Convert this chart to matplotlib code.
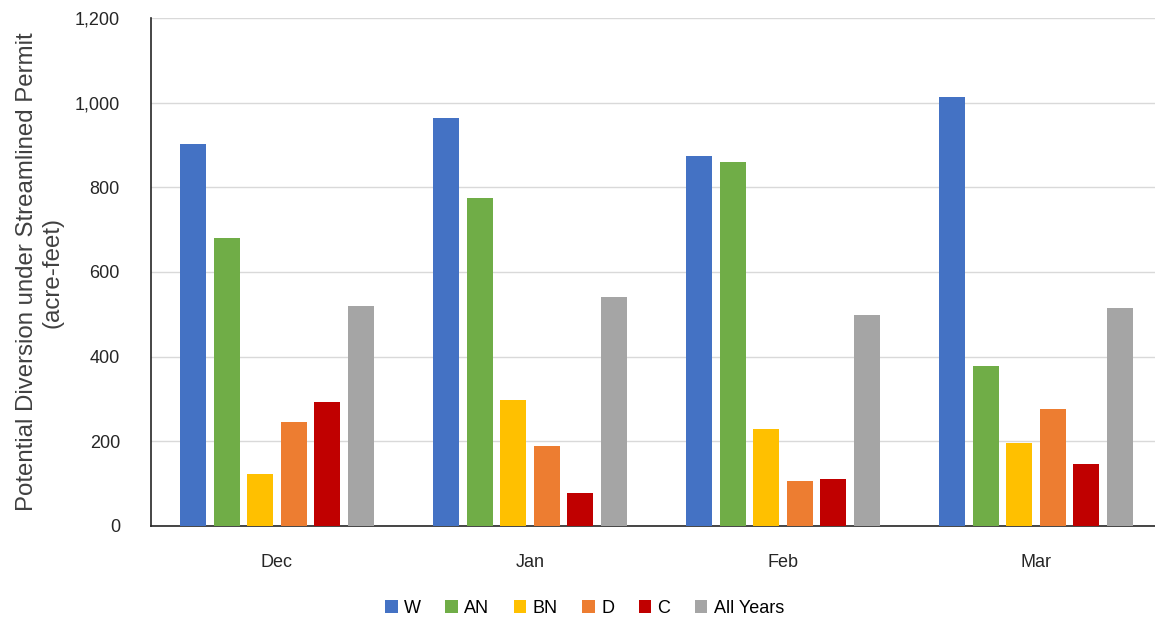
import matplotlib.pyplot as plt
import numpy as np

months = ["Dec", "Jan", "Feb", "Mar"]
series_names = ["W", "AN", "BN", "D", "C", "All Years"]
w_vals = [902, 963, 874, 1013]
an_vals = [680, 774, 860, 377]
bn_vals = [124, 297, 229, 196]
d_vals = [245, 189, 106, 276]
c_vals = [293, 77, 111, 147]
all_vals = [519, 540, 499, 514]
colors = ["#4472C4", "#70AD47", "#FFC000", "#ED7D31", "#C00000", "#A5A5A5"]

plt.rcParams["font.family"] = ["Liberation Sans", "DejaVu Sans"]

fig = plt.figure(figsize=(11.55, 6.22), dpi=100)
ax = fig.add_axes([150.5 / 1155, 1 - 526 / 622, 1012 / 1155, 508 / 622])

x = np.arange(len(months))
step = 0.1325
width = 0.103
all_series = [w_vals, an_vals, bn_vals, d_vals, c_vals, all_vals]
for i, (name, vals, col) in enumerate(zip(series_names, all_series, colors)):
    offset = (i - 2.5) * step
    ax.bar(x + offset, vals, width=width, color=col, label=name, zorder=3)

ax.set_xlim(-0.5, len(months) - 0.5)
ax.set_ylim(0, 1200)
ax.set_yticks(range(0, 1201, 200))
ax.set_yticklabels([f"{v:,}" for v in range(0, 1201, 200)])
ax.set_xticks(x)
ax.set_xticklabels(months)
ax.tick_params(axis="both", length=0, labelsize=13, colors="#262626")
ax.tick_params(axis="x", pad=20)
ax.tick_params(axis="y", pad=22)
ax.grid(axis="y", color="#D9D9D9", linewidth=1.0, zorder=0)
for side in ("top", "right"):
    ax.spines[side].set_visible(False)
ax.spines["left"].set_color("#262626")
ax.spines["bottom"].set_color("#262626")
ax.spines["left"].set_linewidth(1.2)
ax.spines["bottom"].set_linewidth(1.2)

ax.set_ylabel("Potential Diversion under Streamlined Permit\n(acre-feet)",
              fontsize=17.3, color="#404040", labelpad=8, linespacing=1.2)

fig.legend(loc="lower center", bbox_to_anchor=(0.506, -0.018), ncol=6, frameon=False,
           fontsize=13, handlelength=0.7, handleheight=0.7, handletextpad=0.35,
           columnspacing=1.35)

fig.savefig("out.png", dpi=100)
